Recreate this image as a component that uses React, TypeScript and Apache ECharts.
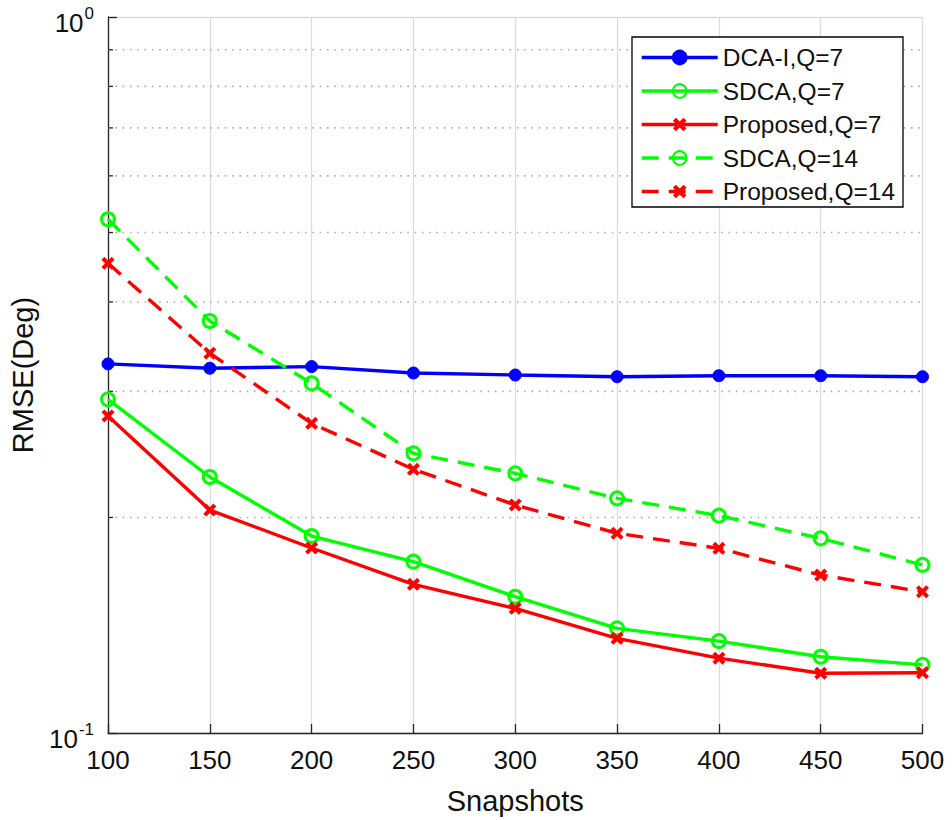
import React, { useEffect, useRef } from "react";
import * as echarts from "echarts";

const snapshots = [100, 150, 200, 250, 300, 350, 400, 450, 500];
const dcaQ7 = [0.3277, 0.3232, 0.3249, 0.3183, 0.3162, 0.3145, 0.3155, 0.3155, 0.3145];
const sdcaQ7 = [0.2924, 0.2278, 0.1884, 0.1735, 0.155, 0.140, 0.1344, 0.1278, 0.1245];
const propQ7 = [0.2772, 0.2048, 0.1813, 0.1613, 0.1493, 0.1356, 0.1272, 0.1212, 0.1214];
const sdcaQ14 = [0.5218, 0.3762, 0.3079, 0.2458, 0.2305, 0.2127, 0.2012, 0.187, 0.1717];
const propQ14 = [0.4529, 0.3392, 0.2707, 0.2335, 0.2082, 0.1901, 0.1811, 0.1662, 0.1575];
const minorTicks = [0.2, 0.3, 0.4, 0.5, 0.6, 0.7, 0.8, 0.9];
const seriesNames = ["DCA-I,Q=7", "SDCA,Q=7", "Proposed,Q=7", "SDCA,Q=14", "Proposed,Q=14"];

const FONT = "'Liberation Sans', Arial, Helvetica, sans-serif";
const AXIS = "#262626";
const X_PATH = "path://M2.2,0 L5,2.8 L7.8,0 L10,2.2 L7.2,5 L10,7.8 L7.8,10 L5,7.2 L2.2,10 L0,7.8 L2.8,5 L0,2.2 Z";

export default function App() {
  const ref = useRef<HTMLDivElement>(null);
  useEffect(() => {
    if (!ref.current) return;
    const chart = echarts.init(ref.current, undefined, { renderer: "svg" });
    const pair = (ys: number[]) => snapshots.map((x, i) => [x, ys[i]]);
    const circleStyle = (color: string) => ({ color: "#ffffff00", borderColor: color, borderWidth: 3 });
    const mk = (name: string, ys: number[], color: string, dashed: boolean, symbol: string, size: number, itemStyle: any) => ({
      name,
      type: "line",
      data: pair(ys),
      symbol,
      symbolSize: size,
      showAllSymbol: true,
      lineStyle: { color, width: 3.4, type: dashed ? [17, 10] : "solid" },
      itemStyle,
      z: 5,
    });
    chart.setOption({
      animation: false,
      backgroundColor: "#ffffff",
      textStyle: { fontFamily: FONT },
      grid: { left: 104, top: 17, right: 29.5, bottom: 87, containLabel: false },
      legend: {
        data: seriesNames,
        orient: "vertical",
        left: 632,
        top: 37,
        padding: [8, 8, 3, 8],
        itemWidth: 76,
        itemHeight: 17,
        itemGap: 8.5,
        lineStyle: { width: 3.4 },
        backgroundColor: "#ffffff",
        borderColor: "#000000",
        borderWidth: 1.3,
        textStyle: { fontSize: 24.5, color: "#111", fontFamily: FONT, lineHeight: 24 },
      },
      xAxis: {
        type: "value",
        min: 100,
        max: 500,
        interval: 50,
        name: "Snapshots",
        nameLocation: "middle",
        nameGap: 53,
        nameTextStyle: { fontSize: 29, color: "#111", fontFamily: FONT },
        axisLine: { show: true, onZero: false, lineStyle: { color: AXIS, width: 1.3 } },
        axisTick: { show: true, inside: true, length: 9, lineStyle: { color: AXIS, width: 1.3 } },
        axisLabel: { fontSize: 26, color: "#111", margin: 14, fontFamily: FONT },
        splitLine: { show: true, lineStyle: { color: "#dcdcdc", width: 1.3 } },
      },
      yAxis: {
        type: "log",
        logBase: 10,
        min: 0.1,
        max: 1,
        name: "RMSE(Deg)",
        nameLocation: "middle",
        nameGap: 71,
        nameTextStyle: { fontSize: 29, color: "#111", fontFamily: FONT },
        axisLine: { show: true, lineStyle: { color: AXIS, width: 1.3 } },
        axisTick: { show: true, inside: true, length: 9, lineStyle: { color: AXIS, width: 1.3 } },
        axisLabel: {
          margin: 14,
          padding: [12, 0, 0, 0],
          formatter: (v: number) => (v >= 0.99 ? "{b|10}{s|0}" : "{b|10}{s|-1}"),
          rich: {
            b: { fontSize: 26, color: "#111", lineHeight: 36, fontFamily: FONT },
            s: { fontSize: 17, color: "#111", verticalAlign: "top", fontFamily: FONT, padding: [0, 0, 0, 1] },
          },
        },
        splitLine: { show: true, lineStyle: { color: "#dcdcdc", width: 1.3 } },
      },
      series: [
        {
          type: "custom",
          name: "minorGrid",
          silent: true,
          z: 1,
          data: minorTicks.map((v) => [snapshots[0], v]),
          encode: { x: 0, y: 1 },
          renderItem: (params: any, api: any) => {
            const v = api.value(1);
            const p1 = api.coord([snapshots[0], v]);
            const p2 = api.coord([snapshots[snapshots.length - 1], v]);
            return {
              type: "group",
              children: [
                {
                  type: "line",
                  shape: { x1: p1[0], y1: p1[1], x2: p2[0], y2: p2[1] },
                  style: { stroke: "#adadad", lineWidth: 1.6, lineDash: [1.6, 5.7] },
                },
                {
                  type: "line",
                  shape: { x1: p1[0], y1: p1[1], x2: p1[0] + 5, y2: p1[1] },
                  style: { stroke: AXIS, lineWidth: 1.3 },
                },
              ],
            };
          },
        },
        mk(seriesNames[0], dcaQ7, "#0000ff", false, "circle", 12, { color: "#0000ff", borderColor: "#0000ff", borderWidth: 1 }),
        mk(seriesNames[1], sdcaQ7, "#00ff00", false, "circle", 13, circleStyle("#00ff00")),
        mk(seriesNames[2], propQ7, "#ff0000", false, X_PATH, 13, { color: "#ff0000" }),
        mk(seriesNames[3], sdcaQ14, "#00ff00", true, "circle", 13, circleStyle("#00ff00")),
        mk(seriesNames[4], propQ14, "#ff0000", true, X_PATH, 13, { color: "#ff0000" }),
      ],
    });
    return () => chart.dispose();
  }, []);
  return <div ref={ref} style={{ width: 952, height: 820, position: "absolute", left: 0, top: 0 }} />;
}
